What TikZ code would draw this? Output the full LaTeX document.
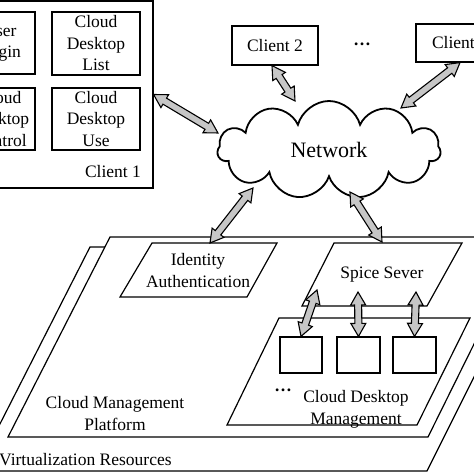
\documentclass[tikz,border=0pt]{standalone}
\usepackage{fontspec}
\setmainfont{Liberation Serif}
\usetikzlibrary{shapes.symbols,calc}
\tikzset{box/.style = {draw, line width=1.2pt, fill=white, align=center, inner sep=0,
                       font=\fontsize{17.5}{21.5}\selectfont}}
\tikzset{txt/.style = {align=center, inner sep=0, font=\fontsize{17.5}{22}\selectfont}}
\tikzset{layer/.style = {draw, fill=white, line width=1.2pt, line join=miter}}
\tikzset{garrow/.style = {draw, fill=gray!45, line width=1.1pt, line join=miter}}
% double headed block arrow from #1 to #2
\newcommand{\dblarrow}[2]{%
  \draw [garrow] let \p1=(#1), \p2=(#2), \n1={atan2(\y2-\y1,\x2-\x1)}, \n2={veclen(\x2-\x1,\y2-\y1)} in
    [shift={(\p1)}, rotate=\n1] (0,0) -- (13,7.5) -- (13,3.5) -- ({\n2-13},3.5) -- ({\n2-13},7.5) -- (\n2,0)
    -- ({\n2-13},-7.5) -- ({\n2-13},-3.5) -- (13,-3.5) -- (13,-7.5) -- cycle;}

\begin{document}
\begin{tikzpicture}[x=1pt, y=-1pt]
      \useasboundingbox (0,0) rectangle (474,474);
      \clip (0,0) rectangle (474,474);

      % clients
      \node [box, minimum width=223pt, minimum height=187pt] (cl1) at (41.5,94.5) {};
      \node [txt] (cl1lbl) at (113,172) {Client 1};
      \node [box, minimum width=70pt, minimum height=62pt] (login) at (0,43) {User\\Login};
      \node [box, minimum width=88pt, minimum height=63pt] (list) at (96,43.5) {Cloud\\Desktop\\List};
      \node [box, minimum width=70pt, minimum height=62pt] (ctrl) at (0,119) {Cloud\\Desktop\\Control};
      \node [box, minimum width=88pt, minimum height=62pt] (use) at (96,119) {Cloud\\Desktop\\Use};

      \node [box, minimum width=86pt, minimum height=39pt] (c2) at (275,45.5) {Client 2};
      \node [txt] (dots) at (362,44) {\textbf{\ldots}};
      \node [box, minimum width=88pt, minimum height=38pt] (cn) at (460,43) {Client n};

      \node [cloud, draw, line width=1.8pt, cloud puffs=11, aspect=2.3, inner sep=0,
             minimum width=223pt, minimum height=98pt, font=\fontsize{22}{26}\selectfont] (net) at (329,150) {Network};

      % server side
      \draw [layer] (90,247) -- (539,247) -- (427,471) -- (-24,471) -- cycle;
      \draw [layer] (110,237) -- (527,237) -- (428,437) -- (8,437) -- cycle;
      \draw [layer] (152,243) -- (277,243) -- (247,297) -- (120,297) -- cycle;
      \draw [layer] (334,243) -- (462,243) -- (427,306) -- (302,306) -- cycle;
      \draw [layer] (279,318) -- (470,318) -- (417,425) -- (227,425) -- cycle;

      \node [box, minimum width=42pt, minimum height=36pt] (vm1) at (301,355) {};
      \node [box, minimum width=43pt, minimum height=36pt] (vm2) at (358.5,355) {};
      \node [box, minimum width=43pt, minimum height=36pt] (vm3) at (414.5,355) {};

      \node [txt] (ia) at (198,271) {Identity\\Authentication};
      \node [txt] (ss) at (382,275) {Spice Sever};
      \node [txt] (cdm) at (356,409) {Cloud Desktop\\Management};
      \node [txt] (cdmdots) at (283,390) {\textbf{\ldots}};
      \node [txt] (cmp) at (115,414) {Cloud Management\\Platform};
      \node [txt, anchor=west] (vr) at (-1,460) {Virtualization Resources};

      \coordinate (n1) at (218,133);
      \coordinate (n2) at (295,101);
      \coordinate (nn) at (401,108);
      \coordinate (nia) at (253,188);
      \coordinate (nss) at (350,192);
      \coordinate (iatop) at (210,243);
      \coordinate (sstop) at (382,242);
      \coordinate (ss1) at (317,290);
      \coordinate (ss2) at (358,292);
      \coordinate (ss3) at (416,292);

      \dblarrow{cl1.east}{n1}
      \dblarrow{[xshift=-3pt]c2.south}{n2}
      \dblarrow{cn.south}{nn}
      \dblarrow{nia}{iatop}
      \dblarrow{nss}{sstop}
      \dblarrow{ss1}{vm1.north}
      \dblarrow{ss2}{vm2.north}
      \dblarrow{ss3}{vm3.north}
\end{tikzpicture}
\end{document}
